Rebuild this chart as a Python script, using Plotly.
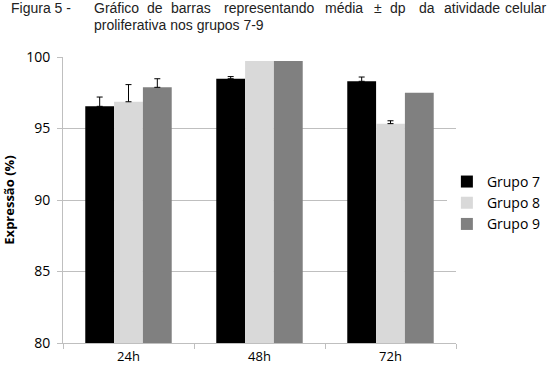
import plotly.graph_objects as go

categories = ["24h", "48h", "72h"]
groups = ["Grupo 7", "Grupo 8", "Grupo 9"]
g7 = [96.55, 98.48, 98.3]
g8 = [96.87, 99.72, 95.34]
g9 = [97.88, 99.72, 97.5]
g7_err = [0.65, 0.15, 0.3]
g8_err = [1.2, None, 0.2]
g9_err = [0.6, None, None]
colors = ["#000000", "#d9d9d9", "#808080"]

series = [g7, g8, g9]
errs = [g7_err, g8_err, g9_err]

fig = go.Figure()
for name, vals, err, col in zip(groups, series, errs, colors):
    up = [e if e is not None else "NaN" for e in err]
    down = [0 if e is not None else "NaN" for e in err]
    fig.add_trace(go.Bar(
        x=categories, y=vals, name=name,
        marker=dict(color=col, line=dict(width=0)),
        error_y=dict(type="data", symmetric=False, array=up, arrayminus=down,
                     color="#000000", thickness=1, width=3),
    ))

font_main = "Open Sans, DejaVu Sans, sans-serif"

ML, MR, MT, MB = 63, 93, 57, 22
W, H = 549, 365

fig.update_layout(
    width=W, height=H,
    margin=dict(l=ML, r=MR, t=MT, b=MB, autoexpand=False),
    paper_bgcolor="white", plot_bgcolor="white",
    barmode="group", bargap=0.34, bargroupgap=0,
    showlegend=True,
    legend=dict(xref="container", yref="container", x=0.814, y=0.444,
                xanchor="left", yanchor="middle",
                font=dict(family=font_main, size=14, color="#000"),
                itemwidth=30, tracegroupgap=4),
    xaxis=dict(
        automargin=False,
        showline=True, linecolor="#bfbfbf", linewidth=1,
        ticks="outside", tickson="boundaries", ticklen=5, tickcolor="#bfbfbf",
        tickfont=dict(family=font_main, size=13, color="#000"),
        ticklabelstandoff=1,
        showgrid=False,
    ),
    yaxis=dict(
        automargin=False,
        range=[80, 100], dtick=5,
        showline=True, linecolor="#bfbfbf", linewidth=1,
        ticks="outside", ticklen=5, tickcolor="#bfbfbf",
        showgrid=True, gridcolor="#bfbfbf", gridwidth=1,
        tickfont=dict(family=font_main, size=14, color="#000"),
        ticklabelstandoff=4,
        title=dict(text="<b>Expressão (%)</b>", standoff=12,
                   font=dict(family=font_main, size=13, color="#000")),
        zeroline=False,
    ),
)

title_font = dict(family="Liberation Sans, Arial, sans-serif", size=14, color="#222")

PW = W - ML - MR
PH = H - MT - MB


def px(x):
    return (x - ML) / PW


def py(y):
    return (H - MB - y) / PH


fig.add_annotation(text="Figura 5 -", x=px(9), y=py(8), xref="paper", yref="paper",
                   xanchor="left", yanchor="middle", showarrow=False, font=title_font)
words = [("Gráfico", 92), ("de", 145), ("barras", 169), ("representando", 222),
         ("média", 323), ("±", 372), ("dp", 388), ("da", 417), ("atividade", 442),
         ("celular", 503)]
for w, xx in words:
    fig.add_annotation(text=w, x=px(xx), y=py(8), xref="paper", yref="paper",
                       xanchor="left", yanchor="middle", showarrow=False, font=title_font)
fig.add_annotation(text="proliferativa nos grupos 7-9", x=px(92), y=py(25),
                   xref="paper", yref="paper", xanchor="left", yanchor="middle",
                   showarrow=False, font=title_font)

fig.write_html("out.html")
